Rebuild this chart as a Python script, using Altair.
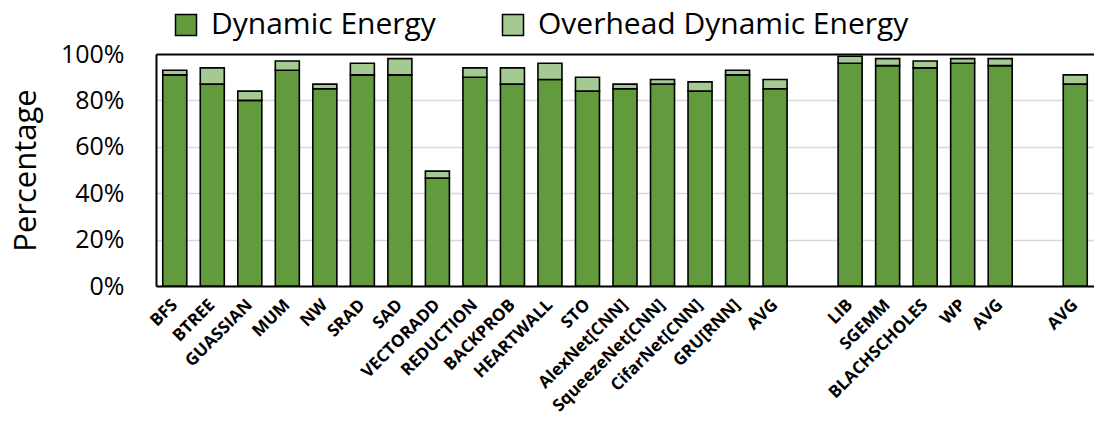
import altair as alt
import pandas as pd

# Benchmarks in axis order; "#" keys keep duplicate AVG slots and blank spacer slots distinct
keys = ["BFS", "BTREE", "GUASSIAN", "MUM", "NW", "SRAD", "SAD", "VECTORADD",
        "REDUCTION", "BACKPROB", "HEARTWALL", "STO", "AlexNet[CNN]",
        "SqueezeNet[CNN]", "CifarNet[CNN]", "GRU[RNN]", "AVG#1", "#gap1",
        "LIB", "SGEMM", "BLACHSCHOLES", "WP", "AVG#2", "#gap2", "AVG#3"]

bench = ["BFS", "BTREE", "GUASSIAN", "MUM", "NW", "SRAD", "SAD", "VECTORADD",
         "REDUCTION", "BACKPROB", "HEARTWALL", "STO", "AlexNet[CNN]",
         "SqueezeNet[CNN]", "CifarNet[CNN]", "GRU[RNN]", "AVG#1",
         "LIB", "SGEMM", "BLACHSCHOLES", "WP", "AVG#2", "AVG#3"]

dynamic = [91, 87, 80, 93, 85, 91, 91, 46.5, 90, 87, 89, 84, 85, 87, 84, 91, 85,
           96, 95, 94, 96, 95, 87]
total = [93, 94, 84, 97, 87, 96, 98, 49.5, 94, 94, 96, 90, 87, 89, 88, 93, 89,
         99, 98, 97, 98, 98, 91]

series = ["Dynamic Energy", "Overhead Dynamic Energy"]
colors = ["#629A3E", "#A5C993"]

rows = []
for b, d, t in zip(bench, dynamic, total):
    rows.append({"bench": b, "series": series[0], "value": d, "order": 0})
    rows.append({"bench": b, "series": series[1], "value": round(t - d, 2), "order": 1})
df = pd.DataFrame(rows)

font = "Open Sans"

bars = alt.Chart(df).mark_bar(stroke="black", strokeWidth=1.6).encode(
    x=alt.X("bench:N", sort=keys,
            scale=alt.Scale(domain=keys, paddingInner=0.36, paddingOuter=0.18),
            axis=alt.Axis(title=None, labelAngle=-45, labelAlign="right",
                          labelBaseline="middle", labelFont=font,
                          labelFontWeight="bold", labelFontSize=17,
                          labelColor="black", labelPadding=16, ticks=False,
                          labelExpr="split(datum.label, '#')[0]",
                          domainColor="black", domainWidth=2)),
    y=alt.Y("value:Q", stack="zero",
            scale=alt.Scale(domain=[0, 100], nice=False),
            axis=alt.Axis(title="Percentage", values=[0, 20, 40, 60, 80, 100],
                          labelExpr="datum.value + '%'", labelFont=font,
                          labelFontSize=25, labelColor="black", labelPadding=32,
                          ticks=False, titleFont=font, titleFontSize=31,
                          titleFontWeight="normal", titleColor="black",
                          titlePadding=18,
                          gridColor=alt.condition("datum.value == 100",
                                                  alt.value("black"),
                                                  alt.value("#D9D9D9")),
                          gridWidth=alt.condition("datum.value == 100",
                                                  alt.value(2),
                                                  alt.value(1.5)),
                          domainColor="black", domainWidth=2)),
    color=alt.Color("series:N",
                    scale=alt.Scale(domain=series, range=colors),
                    legend=alt.Legend(title=None, orient="none", direction="horizontal",
                                      legendX=15, legendY=-44,
                                      symbolType="square", symbolSize=441,
                                      symbolStrokeColor="black", symbolStrokeWidth=1.5,
                                      symbolOpacity=1,
                                      labelFont=font, labelFontSize=30,
                                      labelColor="black", labelOffset=10,
                                      columnPadding=62, labelLimit=500)),
    order=alt.Order("order:Q"),
)

chart = bars.properties(
    width=938, height=232,
    padding={"left": 156, "top": 54, "right": 0, "bottom": 138},
    autosize="none",
).configure_view(stroke=None).configure(background="white")

chart.save("out.html", embed_options={"renderer": "svg", "actions": False})
